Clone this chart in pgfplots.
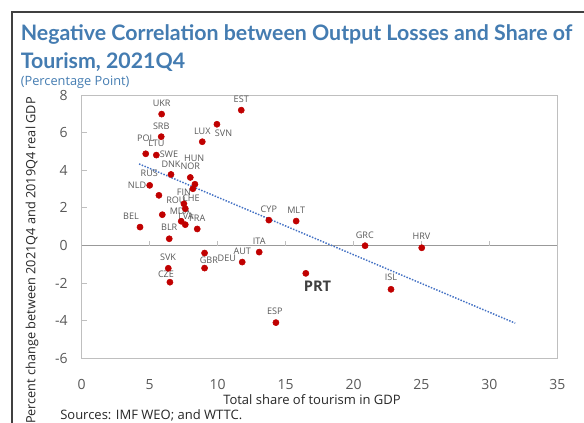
\documentclass[border=0pt]{standalone}
\usepackage{fontspec}
\setmainfont{Open Sans}
\newfontfamily\titlefont{Lato}
\usepackage{pgfplots}
\pgfplotsset{compat=1.18}
\definecolor{ttl}{RGB}{68,124,177}
\definecolor{dotred}{RGB}{192,0,0}
\definecolor{trend}{RGB}{68,114,196}
\definecolor{lbl}{RGB}{89,89,89}
\definecolor{boxgray}{RGB}{191,191,191}
\tikzset{lab/.style={font=\fontsize{6.8}{8}\selectfont, text=lbl, inner sep=0pt}}
\begin{document}
\begin{tikzpicture}
\useasboundingbox (0,0) rectangle (438pt,317.25pt);
\begin{axis}[
 at={(61.3pt,48.5pt)}, anchor=south west,
 scale only axis, width=356.7pt, height=197.4pt,
 xmin=0,xmax=35,ymin=-6,ymax=8,
 xtick={0,5,...,35}, ytick={-6,-4,...,8},
 axis line style={boxgray, line width=0.75pt},
 tick align=inside, ytick pos=left,
 major tick length=4pt,
 xtick style={draw=none},
 ytick style={boxgray, line width=0.75pt},
 /pgf/number format/assume math mode=true,
 tick label style={font=\fontsize{10.5}{12}\selectfont, text=lbl},
 xticklabel style={yshift=-12pt},
 yticklabel style={xshift=-7pt},
 clip=false,
]
\draw[boxgray!80!black, line width=0.75pt] (axis cs:0,0) -- (axis cs:35,0);
\pgfplotsinvokeforeach{5,10,15,20,25,30}{\draw[boxgray, line width=0.75pt] (axis cs:#1,0) -- ++(0pt,3.5pt);}
\addplot[trend, line width=1.1pt, dash pattern=on 1.1pt off 1.1pt] coordinates {(4.22,4.34) (31.9,-4.13)};
\addplot[only marks, mark=*, mark size=2.3pt, mark options={draw=dotred, fill=dotred}] coordinates {
(5.88,6.99) (11.74,7.20) (9.95,6.45) (5.85,5.79) (8.87,5.52) (4.71,4.88) (5.49,4.81)
(6.57,3.78) (7.99,3.62) (8.33,3.26) (8.18,3.02) (5.0,3.20) (5.68,2.67) (7.52,2.22)
(7.62,1.96) (7.32,1.29) (7.62,1.11) (8.5,0.88) (5.93,1.64) (4.29,0.98) (6.44,0.36)
(6.37,-1.21) (6.49,-1.95) (9.04,-1.20) (9.04,-0.40) (11.81,-0.88) (13.06,-0.35)
(14.29,-4.10) (13.77,1.35) (15.78,1.30) (20.85,-0.01) (25.02,-0.12) (16.49,-1.48) (22.76,-2.33)
};
\node[lab] at (axis cs:5.88,7.56) {UKR};
\node[lab] at (axis cs:11.74,7.78) {EST};
\node[lab] at (axis cs:5.85,6.36) {SRB};
\node[lab] at (axis cs:8.87,6.07) {LUX};
\node[lab] at (axis cs:10.44,5.95) {SVN};
\node[lab] at (axis cs:4.71,5.72) {POL};
\node[lab] at (axis cs:5.49,5.41) {LTU};
\node[lab] at (axis cs:6.42,4.87) {SWE};
\node[lab] at (axis cs:8.28,4.64) {HUN};
\node[lab] at (axis cs:6.57,4.34) {DNK};
\node[lab] at (axis cs:7.99,4.23) {NOR};
\node[lab] at (axis cs:4.97,3.84) {RUS};
\node[lab] at (axis cs:4.07,3.20) {NLD};
\node[lab] at (axis cs:7.52,2.81) {FIN};
\node[lab] at (axis cs:6.93,2.42) {ROU};
\node[lab] at (axis cs:8.04,2.53) {CHE};
\node[lab] at (axis cs:7.23,1.82) {MDA};
\node[lab] at (axis cs:7.67,1.57) {LVA};
\node[lab] at (axis cs:8.5,1.45) {FRA};
\node[lab] at (axis cs:3.63,1.57) {BEL};
\node[lab] at (axis cs:6.44,0.98) {BLR};
\node[lab] at (axis cs:6.35,-0.61) {SVK};
\node[lab] at (axis cs:6.20,-1.52) {CZE};
\node[lab] at (axis cs:9.36,-0.79) {GBR};
\node[lab] at (axis cs:10.68,-0.68) {DEU};
\node[lab] at (axis cs:11.81,-0.29) {AUT};
\node[lab] at (axis cs:13.06,0.24) {ITA};
\node[lab] at (axis cs:14.21,-3.47) {ESP};
\node[lab] at (axis cs:13.77,1.94) {CYP};
\node[lab] at (axis cs:15.78,1.89) {MLT};
\node[lab] at (axis cs:20.83,0.56) {GRC};
\node[lab] at (axis cs:25.0,0.51) {HRV};
\node[lab] at (axis cs:22.76,-1.71) {ISL};
\node[font=\bfseries\fontsize{11}{13}\selectfont, text=black!75, inner sep=0pt] at (axis cs:17.35,-2.19) {PRT};
\end{axis}
\begin{scope}[x=0.75pt,y=-0.75pt,shift={(0pt,317.25pt)}]
\draw[black!75, line width=1.1pt] (12,430) -- (12,12) -- (590,12);
\node[anchor=base west, font=\titlefont\bfseries\fontsize{16}{18}\selectfont, text=ttl, inner sep=0pt] at (20.5,40.5) {Negative Correlation between Output Losses and Share of};
\node[anchor=base west, font=\titlefont\bfseries\fontsize{16}{18}\selectfont, text=ttl, inner sep=0pt] at (20.5,69) {Tourism, 2021Q4};
\node[anchor=base west, font=\fontsize{9.6}{12}\selectfont, text=ttl, inner sep=0pt] at (20.5,86) {(Percentage Point)};
\node[rotate=90, anchor=east, font=\fontsize{9.55}{12}\selectfont, text=black!85, inner sep=0pt] at (32,97) {Percent change between 2021Q4 and 2019Q4 real GDP};
\node[anchor=base, font=\fontsize{9.75}{12}\selectfont, text=black!85, inner sep=0pt] at (312,405) {Total share of tourism in GDP};
\node[anchor=base west, font=\fontsize{9.75}{12}\selectfont, text=black!85, inner sep=0pt] at (60,420) {Sources: IMF WEO; and WTTC.};
\end{scope}
\end{tikzpicture}
\end{document}
